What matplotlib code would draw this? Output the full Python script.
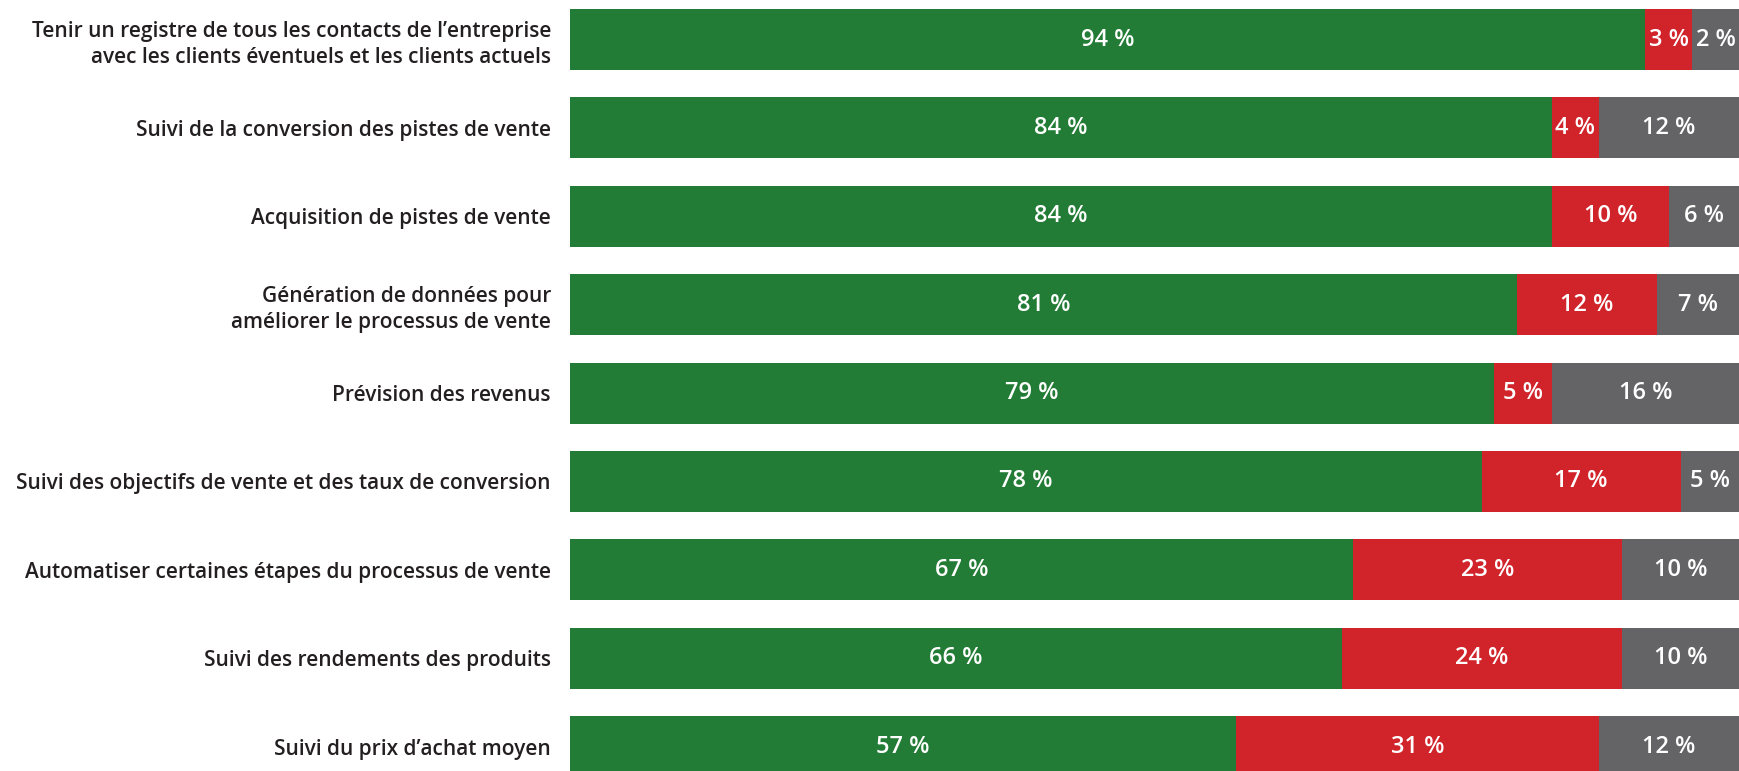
import numpy as np
import matplotlib.pyplot as plt

# Données (en %)
categories = [
    "Tenir un registre de tous les contacts de l\u2019entreprise\navec les clients éventuels et les clients actuels",
    "Suivi de la conversion des pistes de vente",
    "Acquisition de pistes de vente",
    "Génération de données pour\naméliorer le processus de vente",
    "Prévision des revenus",
    "Suivi des objectifs de vente et des taux de conversion",
    "Automatiser certaines étapes du processus de vente",
    "Suivi des rendements des produits",
    "Suivi du prix d\u2019achat moyen",
]
green_vals = [94, 84, 84, 81, 79, 78, 67, 66, 57]
red_vals = [3, 4, 10, 12, 5, 17, 23, 24, 31]
grey_vals = [2, 12, 6, 7, 16, 5, 10, 10, 12]

colors = ["#237c35", "#d1232a", "#646466"]
MIN_SHARE = 4  # small segments are widened so their label fits

vals = np.array([green_vals, red_vals, grey_vals], dtype=float).T
# each row fills the full width
widths = vals / vals.sum(axis=1, keepdims=True) * 100
for row in widths:
    small = row < MIN_SHARE
    extra = (MIN_SHARE - row[small]).sum()
    row[small] = MIN_SHARE
    row[np.argmax(row)] -= extra

fig = plt.figure(figsize=(17.39, 7.71), dpi=100)
ax = fig.add_axes([570 / 1739, 0, 1 - 570 / 1739, 1])

y = np.arange(len(categories))
left = np.zeros(len(categories))
for j in range(3):
    ax.barh(y, widths[:, j], left=left, height=0.69, color=colors[j], linewidth=0)
    for i in range(len(categories)):
        ax.text(left[i] + widths[i, j] / 2, y[i], f"{int(vals[i, j])} %",
                ha="center", va="center", color="white", fontsize=17,
                fontweight="semibold", family="Open Sans")
    left += widths[:, j]

ax.set_xlim(0, 100)
ax.set_ylim(8.277, -0.447)
ax.set_yticks(y)
ax.set_yticklabels(categories, fontsize=15, fontweight="semibold", family="Open Sans",
                   color="#231f20", linespacing=1.3)
ax.tick_params(axis="y", length=0, pad=13.7)
ax.set_xticks([])
for s in ax.spines.values():
    s.set_visible(False)

plt.savefig("out.png", dpi=100)
